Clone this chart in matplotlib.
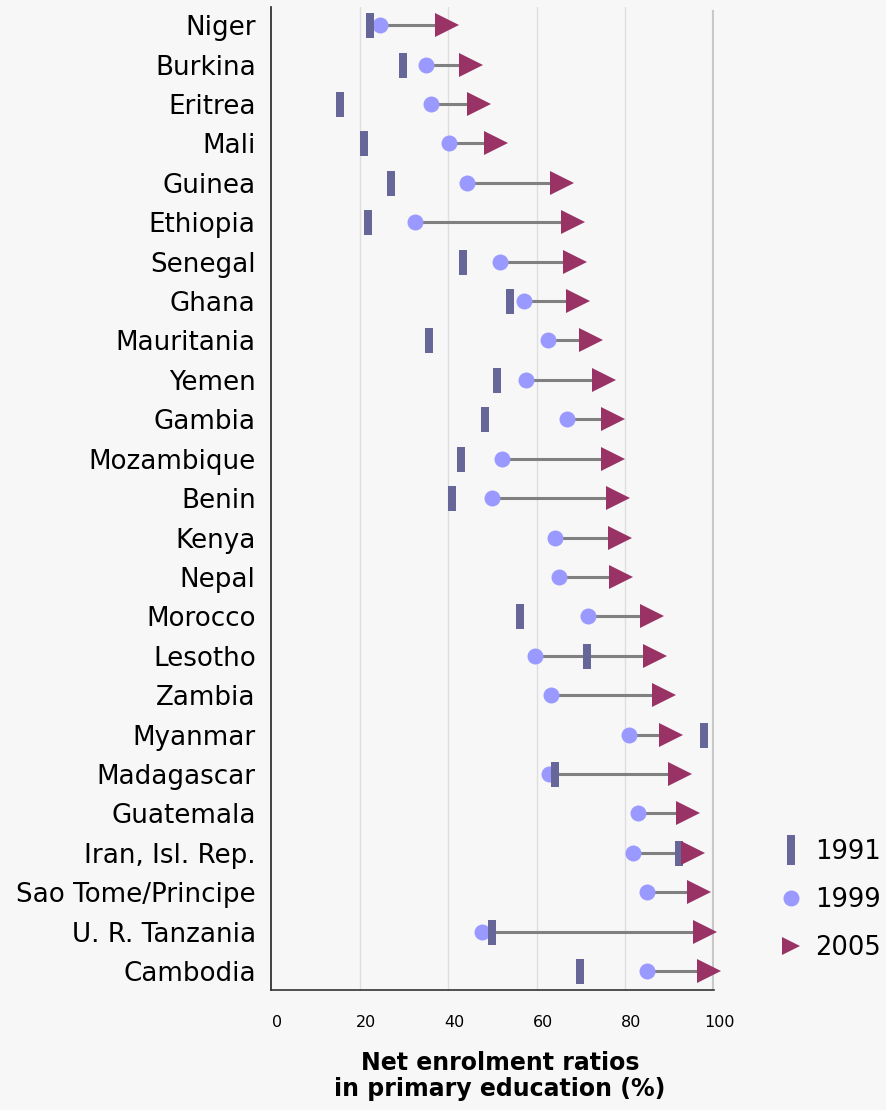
import matplotlib
matplotlib.use("Agg")
import matplotlib.pyplot as plt
import matplotlib.transforms as mtransforms
from matplotlib.lines import Line2D

# data (net enrolment ratio, %)
countries = ["Niger", "Burkina", "Eritrea", "Mali", "Guinea", "Ethiopia", "Senegal",
             "Ghana", "Mauritania", "Yemen", "Gambia", "Mozambique", "Benin", "Kenya",
             "Nepal", "Morocco", "Lesotho", "Zambia", "Myanmar", "Madagascar",
             "Guatemala", "Iran, Isl. Rep.", "Sao Tome/Principe", "U. R. Tanzania",
             "Cambodia"]
ner_1991 = [22.3, 29.7, 15.6, 21.1, 27.2, 22.0, 43.3, 54.0, 35.6, 51.1, 48.2, 42.9,
            40.9, None, None, 56.1, 71.4, None, 97.8, 64.2, None, 92.1, None, 49.9,
            69.7]
ner_1999 = [24.5, 35.1, 36.2, 40.2, 44.2, 32.6, 51.8, 57.2, 62.6, 57.6, 66.9, 52.2,
            50.0, 64.1, 64.9, 71.6, 59.7, 63.3, 80.7, 62.8, 82.8, 81.7, 84.9, 47.7,
            84.9]
ner_2005 = [39.7, 45.1, 46.9, 50.9, 65.7, 68.2, 68.6, 69.3, 72.2, 75.1, 77.2, 77.2,
            78.4, 78.7, 79.0, 85.9, 86.6, 88.8, 90.3, 92.4, 94.2, 95.3, 96.7, 97.9,
            98.9]
x_ticks = [0, 20, 40, 60, 80, 100]

c_1991 = "#666699"
c_1999 = "#9999ff"
c_2005 = "#993366"
bg = "#f7f7f7"

plt.rcParams["font.family"] = "DejaVu Sans"

fig = plt.figure(figsize=(8.87, 11.10), dpi=100, facecolor=bg)
ax = fig.add_axes([271 / 887, 1 - 990 / 1110, (714 - 271) / 887, (990 - 7) / 1110])
ax.set_facecolor(bg)

rows = list(range(len(countries)))

# vertical bar marker for 1991
bar_marker = [(-4, -12.5), (4, -12.5), (4, 12.5), (-4, 12.5), (-4, -12.5)]

for i in rows:
    ax.plot([ner_1999[i], ner_2005[i]], [i, i], color="#808080", lw=2.2, zorder=2,
            solid_capstyle="butt")

ax.plot(ner_1999, rows, linestyle="none", marker="o", markersize=11.5,
        color=c_1999, markeredgewidth=0, zorder=3, clip_on=False)
r91 = [i for i in rows if ner_1991[i] is not None]
ax.plot([ner_1991[i] for i in r91], r91, linestyle="none", marker=bar_marker,
        markersize=18, color=c_1991, markeredgewidth=0, zorder=4, clip_on=False)
ax.plot(ner_2005, rows, linestyle="none", marker=">", markersize=17.3,
        color=c_2005, markeredgewidth=0, zorder=5, clip_on=False)

ax.set_xlim(0, 100)
ax.set_ylim(24.48, -0.46)

for g in x_ticks[1:-1]:
    ax.axvline(g, color="#dedede", lw=1, zorder=1)
ax.axvline(100, color="#c8c8c8", lw=3, ymax=0.995, zorder=1)

ax.set_yticks(rows)
ax.set_yticklabels(countries, fontsize=18.8)
ax.tick_params(axis="y", length=0, pad=11)

ax.set_xticks(x_ticks)
ax.set_xticklabels([str(t) for t in x_ticks], fontsize=11.5)
ax.tick_params(axis="x", length=0, pad=18)
offset = mtransforms.ScaledTranslation(6 / 100, 0, fig.dpi_scale_trans)
for lbl in ax.get_xticklabels():
    lbl.set_transform(lbl.get_transform() + offset)

for s in ["top", "right"]:
    ax.spines[s].set_visible(False)
ax.spines["left"].set_color("#222222")
ax.spines["bottom"].set_color("#333333")
ax.spines["left"].set_linewidth(1.2)
ax.spines["bottom"].set_linewidth(1.2)

fig.text(500 / 887, 1 - 1076 / 1110, "Net enrolment ratios\nin primary education (%)",
         ha="center", va="center", fontsize=17, fontweight="bold", linespacing=1.15)

handles = [
    Line2D([], [], linestyle="none", marker=[(-4, -15), (4, -15), (4, 15), (-4, 15), (-4, -15)],
           markersize=21.6, color=c_1991, markeredgewidth=0),
    Line2D([], [], linestyle="none", marker="o", markersize=11.5, color=c_1999,
           markeredgewidth=0),
    Line2D([], [], linestyle="none", marker=">", markersize=12.5, color=c_2005,
           markeredgewidth=0),
]
leg = fig.legend(handles, ["1991", "1999", "2005"], loc="center left",
                 bbox_to_anchor=(765 / 887, 1 - 900 / 1110), frameon=False,
                 fontsize=18.5, handlelength=1.0, handletextpad=0.45,
                 labelspacing=0.85, borderpad=0)

fig.savefig("out.png", dpi=100, facecolor=bg)
